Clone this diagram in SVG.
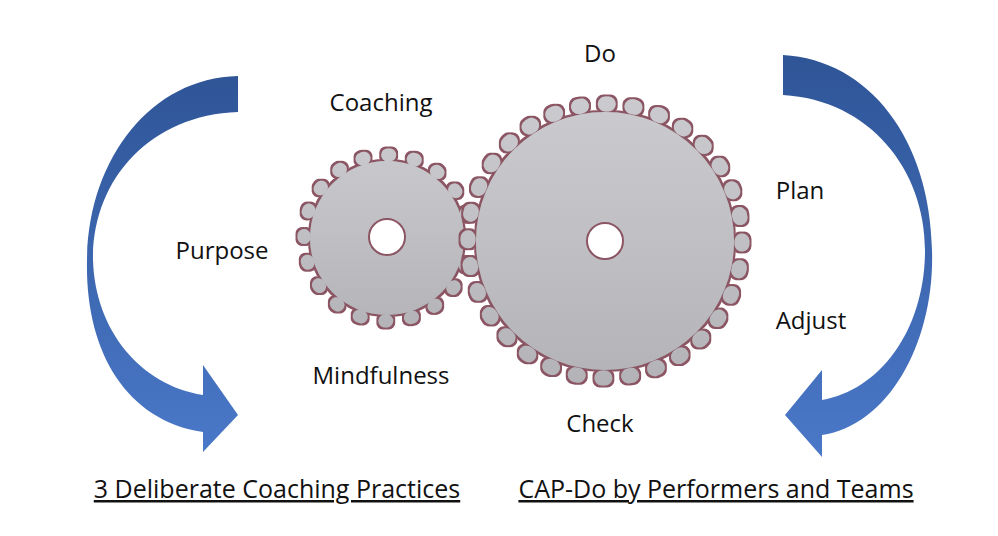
<svg xmlns="http://www.w3.org/2000/svg" width="998" height="536" viewBox="0 0 998 536">
<defs>
<linearGradient id="blue" x1="0" y1="0" x2="0" y2="1"><stop offset="0" stop-color="#2f5597"/><stop offset="1" stop-color="#4a78c8"/></linearGradient>
<linearGradient id="gs" gradientUnits="userSpaceOnUse" x1="0" y1="148" x2="0" y2="328"><stop offset="0" stop-color="#c9c9cd"/><stop offset="0.5" stop-color="#bfbfc3"/><stop offset="1" stop-color="#b4b4b8"/></linearGradient>
<linearGradient id="gl" gradientUnits="userSpaceOnUse" x1="0" y1="96" x2="0" y2="386"><stop offset="0" stop-color="#cbcbcf"/><stop offset="0.5" stop-color="#c0c0c4"/><stop offset="1" stop-color="#b3b3b7"/></linearGradient>
<filter id="out" x="-10%" y="-10%" width="120%" height="120%">
<feMorphology in="SourceAlpha" operator="dilate" radius="1.6" result="d"/>
<feFlood flood-color="#8c5563"/>
<feComposite in2="d" operator="in" result="o"/>
<feMerge><feMergeNode in="o"/><feMergeNode in="SourceGraphic"/></feMerge>
</filter>
</defs>
<style>
text{font-family:"Open Sans","Liberation Sans",sans-serif;font-size:24px;fill:#111;text-anchor:middle}
.t{fill:none;stroke-linecap:round}
.hole{fill:#fff;stroke:#8c5563;stroke-width:2}
.u{text-decoration:underline;font-size:25px}
</style>
<rect width="998" height="536" fill="#fff"/>
<g id="arrow-left">
<path fill="url(#blue)" d="M238,76 L238,112 C150,115 92,180 93,260 C95,330 140,385 203,395 L203,365 L238,415 L203,452 L203,432 C125,420 85,350 87,260 C88,160 150,78 238,76 Z"/>
</g>
<g id="arrow-right">
<path fill="url(#blue)" d="M783,55 L783,95 C870,100 925,170 925,250 C925,330 880,390 822,400 L822,370 L785,415 L822,457 L822,435 C890,425 935,340 932,250 C930,140 870,60 783,55 Z"/>
</g>
<g id="gear-small">
<g filter="url(#out)">
<circle cx="387" cy="238" r="77" fill="url(#gs)"/>
<circle class="t" cx="387" cy="238" r="83" stroke="url(#gs)" stroke-width="13" stroke-dasharray="2 24.08"/>
</g>
<circle class="hole" cx="387" cy="237" r="18"/>
</g>
<g id="gear-large">
<g filter="url(#out)">
<circle cx="605" cy="241" r="129" fill="url(#gl)"/>
<circle class="t" cx="605" cy="241" r="137" stroke="url(#gl)" stroke-width="15" stroke-dasharray="3 23.9"/>
</g>
<circle class="hole" cx="605" cy="241" r="18"/>
</g>
<g id="labels">
<text x="600" y="62">Do</text>
<text x="381" y="111">Coaching</text>
<text x="800" y="199">Plan</text>
<text x="222" y="259">Purpose</text>
<text x="811" y="329">Adjust</text>
<text x="381" y="384">Mindfulness</text>
<text x="600" y="432">Check</text>
<text class="u" x="277" y="498">3 Deliberate Coaching Practices</text>
<text class="u" x="716" y="498">CAP-Do by Performers and Teams</text>
</g>
</svg>
